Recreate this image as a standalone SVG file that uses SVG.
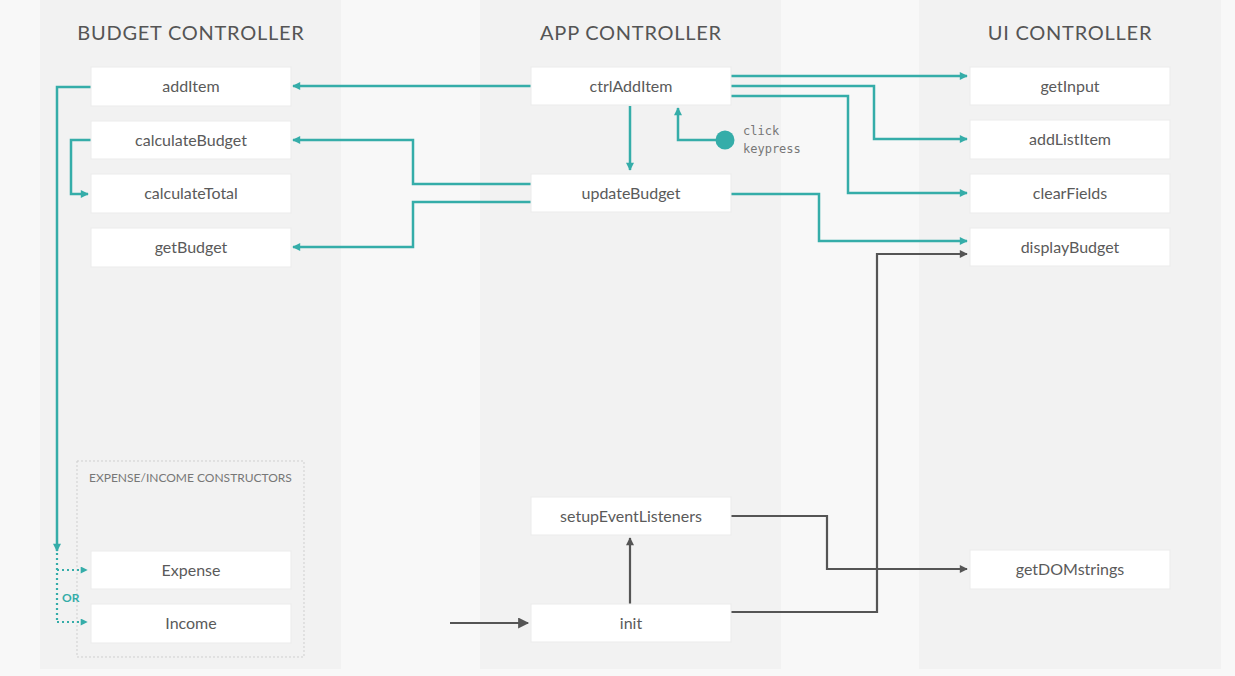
<svg xmlns="http://www.w3.org/2000/svg" width="1235" height="676" viewBox="0 0 1235 676">
<defs>
<marker id="at" viewBox="0 0 10 10" refX="9" refY="5" markerWidth="10" markerHeight="8" markerUnits="userSpaceOnUse" orient="auto"><path d="M0,0 L10,5 L0,10 z" fill="#35ada9"/></marker>
<marker id="ad" viewBox="0 0 10 10" refX="9" refY="5" markerWidth="10" markerHeight="8" markerUnits="userSpaceOnUse" orient="auto"><path d="M0,0 L10,5 L0,10 z" fill="#555"/></marker>
<marker id="ai" viewBox="0 0 10 10" refX="9" refY="5" markerWidth="16" markerHeight="11" markerUnits="userSpaceOnUse" orient="auto"><path d="M0,0 L10,5 L0,10 z" fill="#555"/></marker>
<marker id="aw" viewBox="0 0 10 10" refX="9" refY="5" markerWidth="8" markerHeight="7" markerUnits="userSpaceOnUse" orient="auto"><path d="M0,0 L10,5 L0,10 z" fill="#35ada9"/></marker>
</defs>
<style>
.panel{fill:#f2f2f2}
.node rect{fill:#fff;stroke:#ebebeb;stroke-width:1}
.node text{font-family:Lato,"Liberation Sans",sans-serif;font-size:16px;fill:#5a5a5a;text-anchor:middle}
.title{font-family:Lato,"Liberation Sans",sans-serif;font-size:20px;fill:#555;text-anchor:middle;letter-spacing:0.75px}
.t{fill:none;stroke:#35ada9;stroke-width:2.5}
.d{fill:none;stroke:#555;stroke-width:2.2}
.dot{fill:none;stroke:#35ada9;stroke-width:2.2;stroke-dasharray:2 3}
.mono{font-family:"DejaVu Sans Mono","Liberation Mono",monospace;font-size:12px;fill:#777}
</style>
<rect width="1235" height="676" fill="#f8f8f8"/>
<rect class="panel" x="40" y="0" width="301" height="669"/>
<rect class="panel" x="480" y="0" width="301" height="669"/>
<rect class="panel" x="919" y="0" width="302" height="669"/>
<text class="title" x="191" y="40">BUDGET CONTROLLER</text>
<text class="title" x="631" y="40">APP CONTROLLER</text>
<text class="title" x="1070" y="40">UI CONTROLLER</text>
<g id="constructors">
<rect x="77" y="461" width="227" height="196" fill="none" stroke="#cfcfcf" stroke-width="1" stroke-dasharray="2 2"/>
<text x="89" y="482" font-family="Lato,'Liberation Sans',sans-serif" font-size="12" fill="#777">EXPENSE/INCOME CONSTRUCTORS</text>
</g>
<g id="connectors">
<path class="t" d="M531,86 H293" marker-end="url(#at)"/>
<path class="t" d="M91,87 H57 V551" marker-end="url(#at)"/>
<path class="dot" d="M57,553 V622"/>
<path class="dot" d="M57,570 H87" marker-end="url(#aw)"/>
<path class="dot" d="M57,622 H87" marker-end="url(#aw)"/>
<text x="62" y="602" font-family="Lato,'Liberation Sans',sans-serif" font-size="12" font-weight="bold" fill="#35ada9">OR</text>
<path class="t" d="M91,140 H71 V194 H88" marker-end="url(#at)"/>
<path class="t" d="M531,184 H413 V140 H293" marker-end="url(#at)"/>
<path class="t" d="M531,202 H413 V247 H293" marker-end="url(#at)"/>
<path class="t" d="M630,106 V170" marker-end="url(#at)"/>
<path class="t" d="M725,140 H678 V108" marker-end="url(#at)"/>
<circle cx="725" cy="140" r="9.5" fill="#35ada9"/>
<text class="mono" x="743" y="135">click</text>
<text class="mono" x="743" y="153">keypress</text>
<path class="t" d="M731,76 H967" marker-end="url(#at)"/>
<path class="t" d="M731,86 H874 V139 H967" marker-end="url(#at)"/>
<path class="t" d="M731,96 H848 V193 H967" marker-end="url(#at)"/>
<path class="t" d="M731,194 H819 V241 H967" marker-end="url(#at)"/>
<path class="d" d="M450,623 H528" stroke-width="3.5" marker-end="url(#ai)"/>
<path class="d" d="M630,604 V538" marker-end="url(#ad)"/>
<path class="d" d="M731,516 H827 V569 H967" marker-end="url(#ad)"/>
<path class="d" d="M731,612 H877 V254 H967" marker-end="url(#ad)"/>
</g>
<g id="addItem" class="node"><rect x="91" y="67" width="200" height="39"/><text x="191" y="92">addItem</text></g>
<g id="calculateBudget" class="node"><rect x="91" y="121" width="200" height="38"/><text x="191" y="146">calculateBudget</text></g>
<g id="calculateTotal" class="node"><rect x="91" y="174" width="200" height="39"/><text x="191" y="199">calculateTotal</text></g>
<g id="getBudget" class="node"><rect x="91" y="228" width="200" height="39"/><text x="191" y="253">getBudget</text></g>
<g id="Expense" class="node"><rect x="91" y="551" width="200" height="38"/><text x="191" y="576">Expense</text></g>
<g id="Income" class="node"><rect x="91" y="604" width="200" height="39"/><text x="191" y="629">Income</text></g>
<g id="ctrlAddItem" class="node"><rect x="531" y="67" width="200" height="38"/><text x="631" y="92">ctrlAddItem</text></g>
<g id="updateBudget" class="node"><rect x="531" y="174" width="200" height="38"/><text x="631" y="199">updateBudget</text></g>
<g id="setupEventListeners" class="node"><rect x="531" y="497" width="200" height="38"/><text x="631" y="522">setupEventListeners</text></g>
<g id="init" class="node"><rect x="531" y="604" width="200" height="38"/><text x="631" y="629">init</text></g>
<g id="getInput" class="node"><rect x="970" y="67" width="200" height="38"/><text x="1070" y="92">getInput</text></g>
<g id="addListItem" class="node"><rect x="970" y="120" width="200" height="39"/><text x="1070" y="145">addListItem</text></g>
<g id="clearFields" class="node"><rect x="970" y="174" width="200" height="39"/><text x="1070" y="199">clearFields</text></g>
<g id="displayBudget" class="node"><rect x="970" y="228" width="200" height="38"/><text x="1070" y="253">displayBudget</text></g>
<g id="getDOMstrings" class="node"><rect x="970" y="550" width="200" height="39"/><text x="1070" y="575">getDOMstrings</text></g>
</svg>
